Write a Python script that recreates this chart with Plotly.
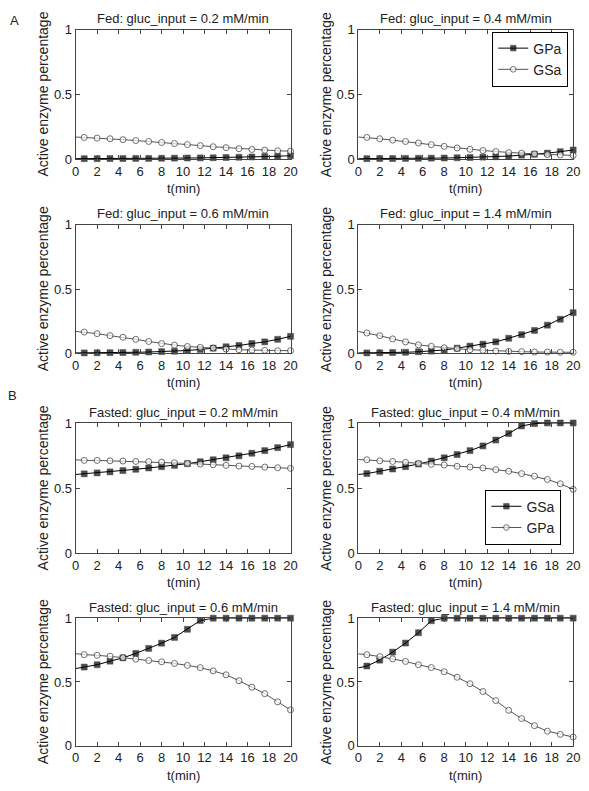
import plotly.graph_objects as go

# time points (first point is t=0, line only; the rest carry markers)
t = [0, 0.8, 2.0, 3.2, 4.4, 5.6, 6.8, 8.0, 9.2, 10.4, 11.6, 12.8, 14.0, 15.2, 16.4, 17.6, 18.8, 20.0]

titles = [
    "Fed: gluc_input = 0.2 mM/min", "Fed: gluc_input = 0.4 mM/min",
    "Fed: gluc_input = 0.6 mM/min", "Fed: gluc_input = 1.4 mM/min",
    "Fasted: gluc_input = 0.2 mM/min", "Fasted: gluc_input = 0.4 mM/min",
    "Fasted: gluc_input = 0.6 mM/min", "Fasted: gluc_input = 1.4 mM/min",
]

# Fed: squares = GPa, circles = GSa
fed02_gpa = [0.003, 0.003, 0.003, 0.004, 0.004, 0.005, 0.005, 0.006, 0.007, 0.008, 0.009, 0.010, 0.012, 0.014, 0.016, 0.019, 0.022, 0.026]
fed02_gsa = [0.170, 0.167, 0.162, 0.157, 0.150, 0.143, 0.136, 0.128, 0.120, 0.112, 0.104, 0.095, 0.088, 0.080, 0.074, 0.069, 0.064, 0.061]
fed04_gpa = [0.003, 0.003, 0.004, 0.004, 0.005, 0.006, 0.007, 0.008, 0.010, 0.012, 0.015, 0.018, 0.023, 0.030, 0.037, 0.046, 0.057, 0.070]
fed04_gsa = [0.170, 0.167, 0.157, 0.146, 0.136, 0.124, 0.111, 0.098, 0.086, 0.075, 0.066, 0.058, 0.050, 0.045, 0.040, 0.035, 0.032, 0.028]
fed06_gpa = [0.003, 0.003, 0.004, 0.005, 0.006, 0.008, 0.010, 0.013, 0.016, 0.022, 0.030, 0.040, 0.051, 0.061, 0.076, 0.089, 0.109, 0.132]
fed06_gsa = [0.170, 0.165, 0.153, 0.137, 0.125, 0.109, 0.092, 0.076, 0.064, 0.053, 0.046, 0.041, 0.033, 0.028, 0.025, 0.023, 0.020, 0.020]
fed14_gpa = [0.003, 0.003, 0.004, 0.006, 0.008, 0.012, 0.017, 0.026, 0.040, 0.056, 0.071, 0.089, 0.117, 0.145, 0.178, 0.219, 0.265, 0.316]
fed14_gsa = [0.170, 0.158, 0.137, 0.112, 0.089, 0.066, 0.054, 0.043, 0.036, 0.028, 0.023, 0.018, 0.015, 0.013, 0.010, 0.010, 0.008, 0.008]

# Fasted: squares = GSa, circles = GPa
fas02_gsa = [0.605, 0.610, 0.617, 0.625, 0.635, 0.645, 0.655, 0.665, 0.675, 0.688, 0.703, 0.718, 0.733, 0.748, 0.768, 0.788, 0.811, 0.834]
fas02_gpa = [0.718, 0.713, 0.713, 0.710, 0.708, 0.705, 0.703, 0.700, 0.695, 0.690, 0.685, 0.680, 0.675, 0.670, 0.667, 0.662, 0.657, 0.652]
fas04_gsa = [0.605, 0.612, 0.630, 0.647, 0.665, 0.685, 0.708, 0.733, 0.758, 0.788, 0.824, 0.869, 0.919, 0.977, 0.995, 1.0, 1.0, 1.0]
fas04_gpa = [0.720, 0.718, 0.710, 0.705, 0.698, 0.690, 0.683, 0.678, 0.668, 0.662, 0.655, 0.642, 0.630, 0.612, 0.592, 0.567, 0.534, 0.491]
fas06_gsa = [0.605, 0.617, 0.635, 0.663, 0.689, 0.724, 0.763, 0.804, 0.849, 0.913, 0.982, 1.0, 1.0, 1.0, 1.0, 1.0, 1.0, 1.0]
fas06_gpa = [0.722, 0.714, 0.709, 0.702, 0.691, 0.679, 0.668, 0.658, 0.645, 0.630, 0.612, 0.587, 0.556, 0.510, 0.459, 0.408, 0.344, 0.281]
fas14_gsa = [0.610, 0.625, 0.671, 0.734, 0.805, 0.886, 0.980, 1.0, 1.0, 1.0, 1.0, 1.0, 1.0, 1.0, 1.0, 1.0, 1.0, 1.0]
fas14_gpa = [0.720, 0.714, 0.699, 0.681, 0.661, 0.635, 0.613, 0.580, 0.537, 0.486, 0.425, 0.354, 0.278, 0.213, 0.157, 0.114, 0.089, 0.068]

x_ticks = [0, 2, 4, 6, 8, 10, 12, 14, 16, 18, 20]
y_ticks = [0, 0.5, 1]
y_ticklabels = ["0", "0.5", "1"]

panels = [
    (fed02_gpa, "GPa", fed02_gsa, "GSa", None),
    (fed04_gpa, "GPa", fed04_gsa, "GSa", "legend"),
    (fed06_gpa, "GPa", fed06_gsa, "GSa", None),
    (fed14_gpa, "GPa", fed14_gsa, "GSa", None),
    (fas02_gsa, "GSa", fas02_gpa, "GPa", None),
    (fas04_gsa, "GSa", fas04_gpa, "GPa", "legend2"),
    (fas06_gsa, "GSa", fas06_gpa, "GPa", None),
    (fas14_gsa, "GSa", fas14_gpa, "GPa", None),
]

W, H = 589, 791
FONT = "Liberation Sans, Arial, Helvetica, sans-serif"
TXT = "#222222"
cols = [(73, 292), (361, 580)]
rows = [(23, 155), (222, 353), (424, 557), (623, 753)]

fig = go.Figure()
msize = [0] + [6] * (len(t) - 1)

annotations = []
for i, (sq, sqname, ci, ciname, leg) in enumerate(panels):
    r, c = divmod(i, 2)
    x0, x1 = cols[c]
    y0, y1 = rows[r]
    ax = "" if i == 0 else str(i + 1)
    xa, ya = "x" + ax, "y" + ax
    show = leg is not None
    fig.add_trace(go.Scatter(
        x=t, y=sq, mode="lines+markers", name=sqname, xaxis=xa, yaxis=ya,
        line=dict(color="black", width=1),
        marker=dict(symbol="square", size=msize, color="black", line=dict(color="black", width=0.5)),
        showlegend=show, legend=leg if show else None, cliponaxis=False))
    fig.add_trace(go.Scatter(
        x=t, y=ci, mode="lines+markers", name=ciname, xaxis=xa, yaxis=ya,
        line=dict(color="#555555", width=1),
        marker=dict(symbol="circle", size=msize, color="white", line=dict(color="#333333", width=1)),
        showlegend=show, legend=leg if show else None, cliponaxis=False))
    common = dict(showline=True, linecolor="#444444", linewidth=1, mirror="ticks",
                  ticks="inside", ticklen=4, tickcolor="#444444", showgrid=False, zeroline=False,
                  tickfont=dict(family=FONT, size=13, color=TXT), fixedrange=True)
    fig.update_layout(**{
        ("xaxis" + ax): dict(domain=[x0 / W, x1 / W], range=[0, 20], anchor=ya,
                             tickvals=x_ticks, **common),
        ("yaxis" + ax): dict(domain=[1 - y1 / H, 1 - y0 / H], range=[0, 1], anchor=xa,
                             tickvals=y_ticks, ticktext=y_ticklabels, **common),
    })
    annotations.append(dict(text=titles[i], x=(x0 + x1) / 2 / W, y=1 - (y0 - 11) / H,
                            xref="paper", yref="paper", showarrow=False, xanchor="center", yanchor="middle",
                            font=dict(family=FONT, size=13, color=TXT)))
    annotations.append(dict(text="t(min)", x=(x0 + x1) / 2 / W, y=1 - (y1 + 30) / H,
                            xref="paper", yref="paper", showarrow=False, xanchor="center", yanchor="middle",
                            font=dict(family=FONT, size=13, color=TXT)))
    annotations.append(dict(text="Active enzyme percentage", x=(x0 - 33) / W, y=1 - (y0 + y1) / 2 / H,
                            xref="paper", yref="paper", showarrow=False, xanchor="center", yanchor="middle",
                            textangle=-90, font=dict(family=FONT, size=14, color=TXT)))

annotations.append(dict(text="A", x=11 / W, y=1 - 14 / H, xref="paper", yref="paper", showarrow=False,
                        xanchor="center", yanchor="middle", font=dict(family=FONT, size=13, color=TXT)))
annotations.append(dict(text="B", x=9 / W, y=1 - 396 / H, xref="paper", yref="paper", showarrow=False,
                        xanchor="center", yanchor="middle", font=dict(family=FONT, size=13, color=TXT)))

legstyle = dict(bgcolor="white", bordercolor="black", borderwidth=1,
                font=dict(family=FONT, size=14, color=TXT), xanchor="right", yanchor="top",
                tracegroupgap=0, itemwidth=30)
fig.update_layout(
    width=W, height=H, margin=dict(l=0, r=0, t=0, b=0),
    paper_bgcolor="white", plot_bgcolor="white",
    annotations=annotations,
    legend=dict(x=575 / W, y=1 - 25 / H, **legstyle),
    legend2=dict(x=568 / W, y=1 - 492 / H, **legstyle),
)

fig.write_html("out.html", config={"displayModeBar": False},
               post_script="document.body.style.margin='0';document.body.style.overflow='hidden';")
